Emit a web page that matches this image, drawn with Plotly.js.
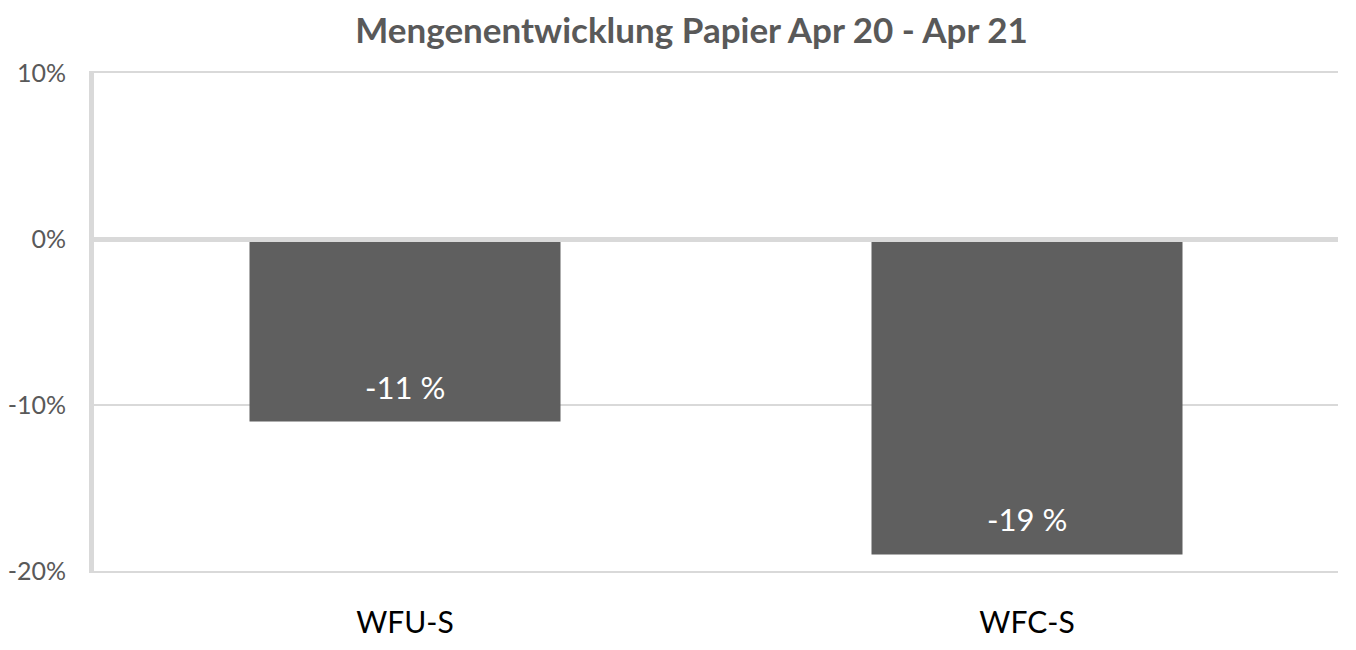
<!DOCTYPE html>
<html>
<head>
<meta charset="utf-8">
<script src="https://cdn.plot.ly/plotly-3.0.1.min.js"></script>
<style>html,body{margin:0;padding:0;background:#fff;}#chart{width:1356px;height:650px;}</style>
</head>
<body>
<div id="chart"></div>
<script>
const categories = ["WFU-S", "WFC-S"];
const values = [-11, -19];
const valueLabels = ["-11 %", "-19 %"];
const yTickVals = [-20, -10, 0, 10];
const yTickText = ["-20%", "-10%", "0%", "10%"];
const chartTitle = "Mengenentwicklung Papier Apr 20 - Apr 21";

const trace = {
  type: "bar",
  x: categories,
  y: values,
  marker: {color: "#5f5f5f"},
  hoverinfo: "none"
};

const annotations = categories.map((c, i) => ({
  x: c, y: values[i], xref: "x", yref: "y",
  text: valueLabels[i], showarrow: false,
  yanchor: "middle", yshift: 35,
  font: {family: "Lato, 'Open Sans', sans-serif", size: 31, color: "#ffffff"}
}));

const layout = {
  width: 1356, height: 650,
  margin: {l: 94, r: 18, t: 73, b: 79},
  paper_bgcolor: "#ffffff", plot_bgcolor: "#ffffff",
  bargap: 0.5,
  showlegend: false,
  title: {
    text: "<b>" + chartTitle + "</b>",
    x: 0.51, xanchor: "center", y: 0.953, yanchor: "middle",
    font: {family: "Lato, 'Open Sans', sans-serif", size: 35, color: "#595959"}
  },
  xaxis: {
    showgrid: false, zeroline: false,
    showline: true, mirror: true, linecolor: "#d9d9d9", linewidth: 2,
    ticks: "", ticklabelstandoff: 24,
    tickfont: {family: "Lato, 'Open Sans', sans-serif", size: 30, color: "#000000"},
    fixedrange: true
  },
  yaxis: {
    range: [-20, 10],
    tickvals: yTickVals, ticktext: yTickText,
    showgrid: true, gridcolor: "#d9d9d9", gridwidth: 2,
    zeroline: true, zerolinecolor: "#d9d9d9", zerolinewidth: 5,
    zerolinelayer: "above traces",
    showline: true, linecolor: "#d9d9d9", linewidth: 5,
    ticks: "", ticklabelstandoff: 18,
    tickfont: {family: "Lato, 'Open Sans', sans-serif", size: 25, color: "#595959"},
    fixedrange: true
  },
  annotations: annotations
};

Plotly.newPlot("chart", [trace], layout, {displayModeBar: false, staticPlot: true});
</script>
</body>
</html>
